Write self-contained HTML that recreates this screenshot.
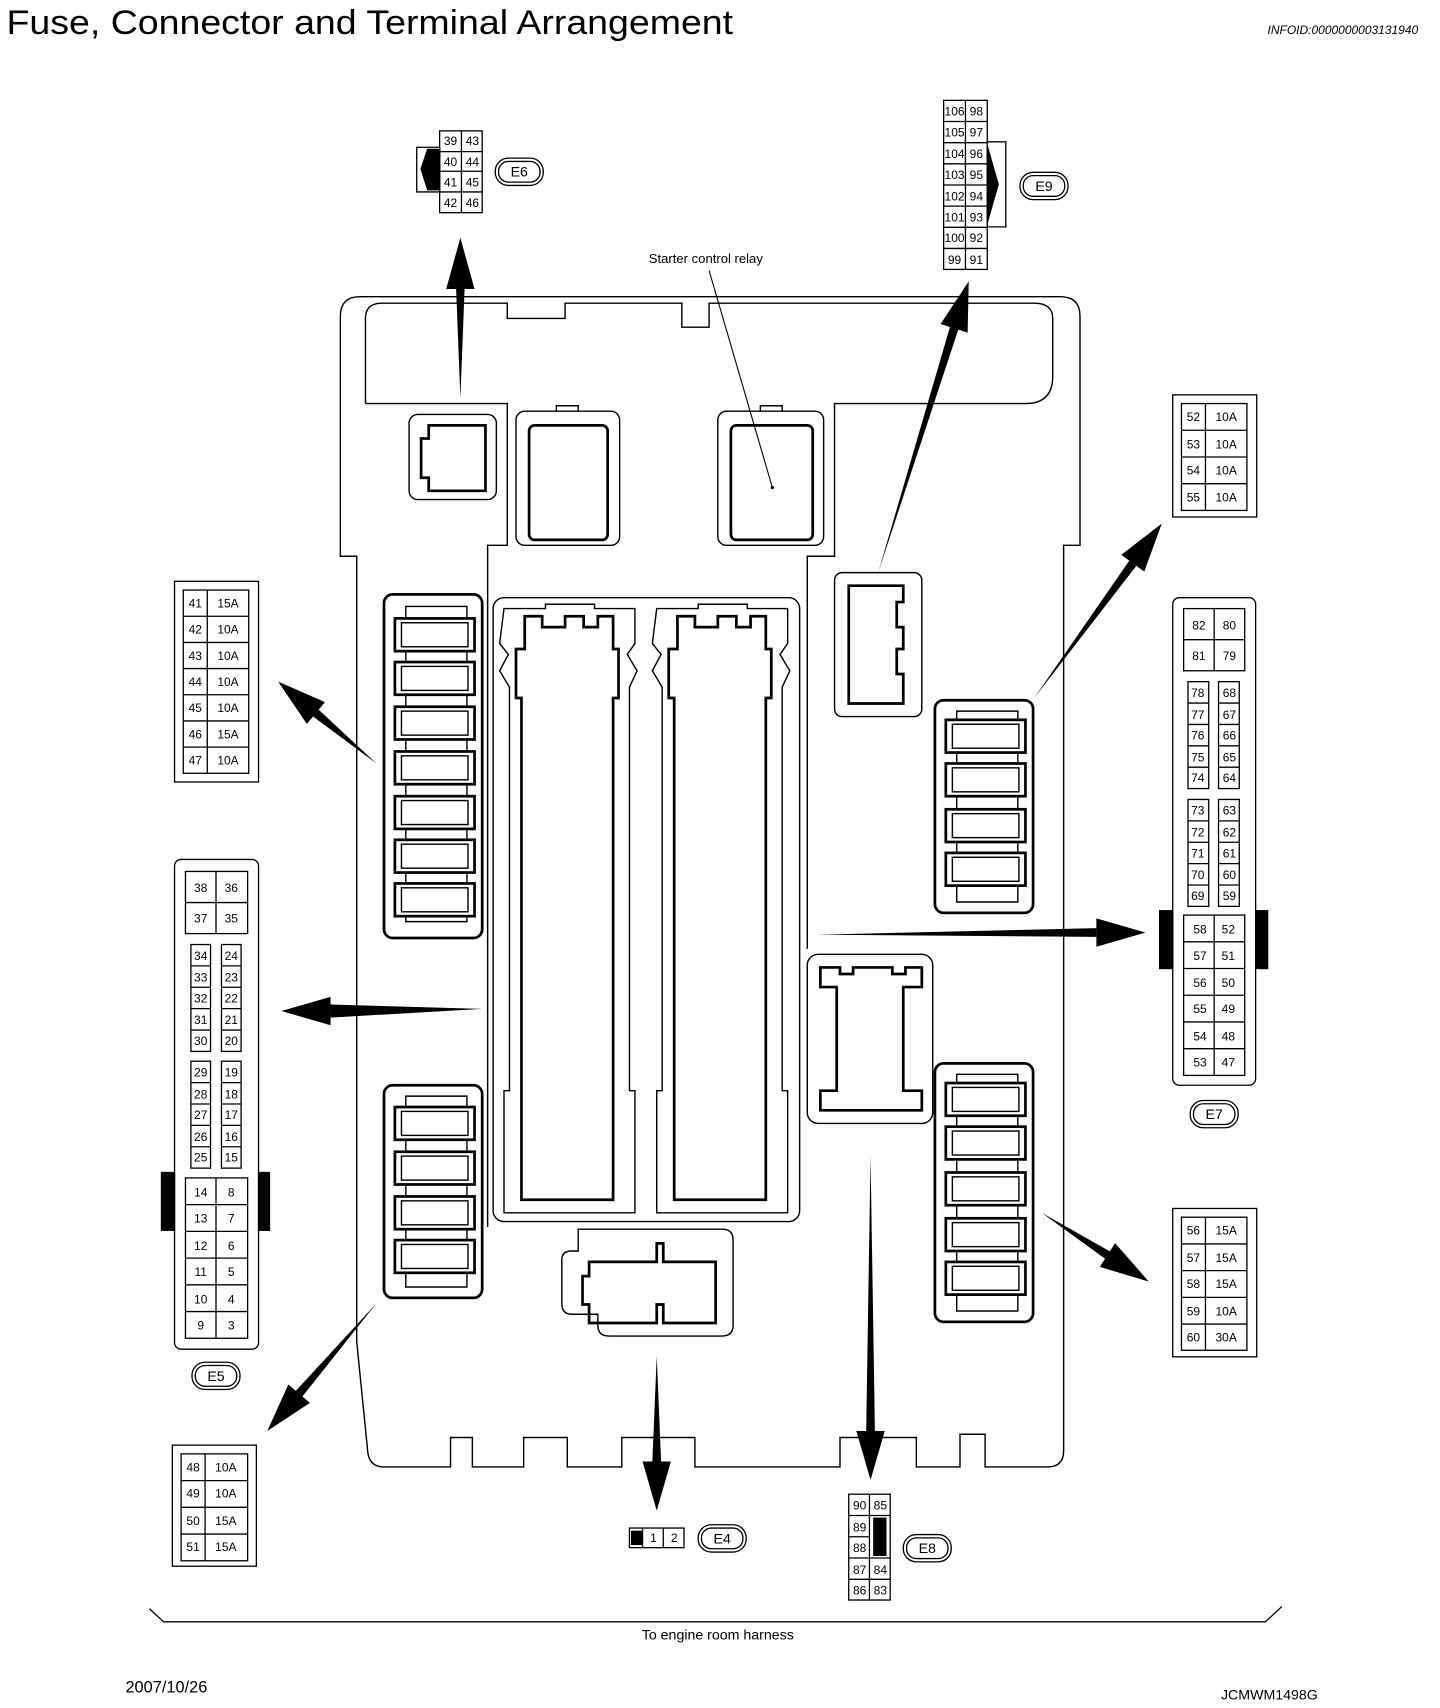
<!DOCTYPE html>
<html><head><meta charset="utf-8"><style>
html,body{margin:0;padding:0;background:#fff}
svg{display:block}
text{font-family:"Liberation Sans",sans-serif;fill:#000}
.c text{font-size:11px;text-anchor:middle}
</style></head><body>
<svg width="1440" height="1708" viewBox="0 0 1320 1566" preserveAspectRatio="none" xmlns="http://www.w3.org/2000/svg">
<rect width="1320" height="1566" fill="#fff"/>
<text x="6" y="31" font-size="31" textLength="666" lengthAdjust="spacingAndGlyphs">Fuse, Connector and Terminal Arrangement</text>
<text x="1300" y="31" font-size="11" font-style="italic" text-anchor="end">INFOID:0000000003131940</text>

<g fill="none" stroke="#000" stroke-width="1.3">
<path d="M330,272 H972 Q990,272 990,290 V500 H975 V1330 Q975,1345 960,1345 H903 V1315 H880 V1345 H840 V1318 H770 V1345 H637 V1318 H570 V1345 H520 V1318 H480 V1345 H433 V1318 H413 V1345 H352 Q338,1345 337,1330 L327,1230 V510 H312 V290 Q312,272 330,272 Z"/>
<path d="M335,370 V292 Q335,278 350,278 H465 V292 H518 V278 H625 V300 H650 V278 H948 Q965,278 965,292 V345 Q965,370 940,370 H765 V510 H740 V860"/>
<path d="M335,370 H465 V500 H447 V1125"/>
<path d="M740,860 V870"/>
<rect x="375" y="380" width="80" height="78" rx="8"/>
<path d="M393,390 H445 V450 H393 V438 H386 V402 H393 Z" stroke-width="2.5"/>
<rect x="473" y="377" width="95" height="123" rx="8"/>
<path d="M510,377 V372 H530 V377"/>
<rect x="485" y="390" width="72" height="105" rx="5" stroke-width="2.5"/>
<rect x="658" y="377" width="97" height="123" rx="8"/>
<path d="M697,377 V372 H717 V377"/>
<rect x="670" y="390" width="75" height="105" rx="5" stroke-width="2.5"/>
<rect x="765" y="525" width="80" height="132" rx="7"/>
<path d="M778,537 H828 V552 H822 V575 H828 V595 H822 V618 H828 V645 H778 Z" stroke-width="2.5"/>
<rect x="452" y="548" width="281" height="572" rx="10"/>
<path d="M462,558 H500 V554 H545 V558 H582 V590 L575,600 L584,615 L577,630 V1000 H582 V1112 H462 V1000 H467 V630 L458,615 L466,600 L458,590 Z"/>
<path d="M481,565 H497 V575 H518 V565 H535 V575 H548 V565 H562 V595 H567 V640 H562 V1100 H478 V640 H473 V595 H481 Z" stroke-width="2.5"/>
<path d="M602,558 H640 V554 H685 V558 H722 V590 L715,600 L724,615 L717,630 V1000 H722 V1112 H602 V1000 H607 V630 L598,615 L606,600 L598,590 Z"/>
<path d="M621,565 H637 V575 H658 V565 H675 V575 H688 V565 H702 V595 H707 V640 H702 V1100 H618 V640 H613 V595 H621 Z" stroke-width="2.5"/>
<path d="M530,1127 H662 Q672,1127 672,1137 V1215 Q672,1225 662,1225 H558 Q548,1225 548,1215 V1205 H524 Q515,1205 515,1195 V1155 Q515,1147 524,1147 H530 Z"/>
<path d="M540,1157 H602 V1140 H608 V1157 H656 V1213 H608 V1196 H602 V1213 H540 V1196 H534 V1170 H540 Z" stroke-width="2.5"/>
<rect x="740" y="875" width="115" height="155" rx="10"/>
<path d="M752,887 H770 V893 H782 V887 H818 V893 H830 V887 H845 V905 H828 V1000 H845 V1018 H752 V1000 H767 V905 H752 Z" stroke-width="2.5"/>
<rect x="352" y="545" width="90" height="315" rx="8" stroke-width="2.5"/>
<rect x="352" y="995" width="90" height="195" rx="8" stroke-width="2.5"/>
<rect x="857" y="642" width="90" height="195" rx="8" stroke-width="2.5"/>
<rect x="857" y="975" width="90" height="237" rx="8" stroke-width="2.5"/>
<path d="M372,556 H428 V845 H372 Z"/>
<path d="M372,1005 H428 V1180 H372 Z"/>
<path d="M877,652 H933 V827 H877 Z"/>
<path d="M877,985 H933 V1202 H877 Z"/>
</g>
<g fill="#fff" stroke="#000">
<g stroke-width="2.5">
<rect x="362" y="567" width="73" height="30"/><rect x="362" y="607" width="73" height="30"/><rect x="362" y="648" width="73" height="30"/><rect x="362" y="689" width="73" height="30"/><rect x="362" y="730" width="73" height="30"/><rect x="362" y="770" width="73" height="30"/><rect x="362" y="810" width="73" height="30"/>
<rect x="362" y="1015" width="73" height="30"/><rect x="362" y="1056" width="73" height="30"/><rect x="362" y="1097" width="73" height="30"/><rect x="362" y="1137" width="73" height="30"/>
<rect x="867" y="660" width="73" height="30"/><rect x="867" y="700" width="73" height="30"/><rect x="867" y="742" width="73" height="30"/><rect x="867" y="782" width="73" height="30"/>
<rect x="867" y="993" width="73" height="30"/><rect x="867" y="1033" width="73" height="30"/><rect x="867" y="1075" width="73" height="30"/><rect x="867" y="1117" width="73" height="30"/><rect x="867" y="1157" width="73" height="30"/>
</g>
<g stroke-width="1.3" fill="none">
<rect x="368" y="571" width="61" height="22"/><rect x="368" y="611" width="61" height="22"/><rect x="368" y="652" width="61" height="22"/><rect x="368" y="693" width="61" height="22"/><rect x="368" y="734" width="61" height="22"/><rect x="368" y="774" width="61" height="22"/><rect x="368" y="814" width="61" height="22"/>
<rect x="368" y="1019" width="61" height="22"/><rect x="368" y="1060" width="61" height="22"/><rect x="368" y="1101" width="61" height="22"/><rect x="368" y="1141" width="61" height="22"/>
<rect x="873" y="664" width="61" height="22"/><rect x="873" y="704" width="61" height="22"/><rect x="873" y="746" width="61" height="22"/><rect x="873" y="786" width="61" height="22"/>
<rect x="873" y="997" width="61" height="22"/><rect x="873" y="1037" width="61" height="22"/><rect x="873" y="1079" width="61" height="22"/><rect x="873" y="1121" width="61" height="22"/><rect x="873" y="1161" width="61" height="22"/>
</g>
</g>

<line x1="650" y1="248" x2="708" y2="447" stroke="#000" stroke-width="1"/>
<circle cx="708" cy="447" r="1.5"/>
<text x="647" y="241" font-size="12" text-anchor="middle">Starter control relay</text>

<g fill="#000">
<polygon points="422,365 418,262 426,262"/><polygon points="409,265 435,265 422,218"/>
<polygon points="805,525 878.4,302.2 870.8,299.8"/><polygon points="887,305 862.2,297.1 888,258"/>
<polygon points="345,700 292.2,650.7 287,656.9"/><polygon points="297.9,643.8 281.3,663.8 255,625"/>
<polygon points="442,925 303,921 303,933"/><polygon points="303,914 303,940 258,927"/>
<polygon points="748,857 1005,851 1005,859"/><polygon points="1005,842 1005,868 1050,855"/>
<polygon points="948,640 1041.6,518.8 1035.2,514"/><polygon points="1048.9,524.1 1027.9,508.7 1065,480"/>
<polygon points="345,1195 277.2,1280.4 271.2,1275.2"/><polygon points="284.1,1286.2 264.3,1269.4 245,1312"/>
<polygon points="602,1243 598,1340 606,1340"/><polygon points="589,1340 615,1340 602,1385"/>
<polygon points="798,1060 794,1312 802,1312"/><polygon points="785,1312 811,1312 798,1357"/>
<polygon points="955,1112 1013,1154.1 1017.4,1147.3"/><polygon points="1008.2,1161.6 1022.2,1139.8 1053,1175"/>
</g>

<g fill="none" stroke="#000" stroke-width="1.2">
<rect x="454" y="145" width="44" height="25" rx="12"/><rect x="457" y="148" width="38" height="19" rx="9"/>
<rect x="935" y="158" width="44" height="25" rx="12"/><rect x="938" y="161" width="38" height="19" rx="9"/>
<rect x="176" y="1249" width="44" height="25" rx="12"/><rect x="179" y="1252" width="38" height="19" rx="9"/>
<rect x="1091" y="1009" width="44" height="25" rx="12"/><rect x="1094" y="1012" width="38" height="19" rx="9"/>
<rect x="640" y="1398" width="44" height="25" rx="12"/><rect x="643" y="1401" width="38" height="19" rx="9"/>
<rect x="828" y="1407" width="44" height="25" rx="12"/><rect x="831" y="1410" width="38" height="19" rx="9"/>
</g>
<g font-size="13" text-anchor="middle">
<text x="476" y="162">E6</text><text x="957" y="175">E9</text><text x="198" y="1266">E5</text>
<text x="1113" y="1026">E7</text><text x="662" y="1415">E4</text><text x="850" y="1424">E8</text>
</g>

<g class="c" fill="none" stroke="#000" stroke-width="1.2">
<rect x="403" y="120" width="39" height="75"/>
<path d="M423,120 V195 M403,139 H442 M403,157 H442 M403,176 H442"/>
<path d="M382,135 H403 V176 H382 Z" fill="#fff"/>
<path d="M403,137 V174 H392 L386,155 L392,137 Z" fill="#000"/>
<rect x="865" y="92" width="40" height="155"/>
<path d="M885,92 V247 M865,111.4 H905 M865,130.8 H905 M865,150.2 H905 M865,169.6 H905 M865,189 H905 M865,208.4 H905 M865,227.8 H905"/>
<path d="M905,130 H922 V208 H905" />
<path d="M905,134 L915,169 L905,204 Z" fill="#000"/>
<rect x="1075" y="362" width="77" height="112"/>
<rect x="1083" y="370" width="60" height="98"/>
<path d="M1105,370 V468 M1083,394.5 H1143 M1083,419 H1143 M1083,443.5 H1143"/>
<rect x="160" y="533" width="77" height="184"/>
<rect x="168" y="541" width="60" height="168"/>
<path d="M190,541 V709 M168,565 H228 M168,589 H228 M168,613 H228 M168,637 H228 M168,661 H228 M168,685 H228"/>
<rect x="160" y="788" width="77" height="449" rx="6"/>
<rect x="170" y="799" width="57" height="57"/><path d="M198,799 V856 M170,827.5 H227"/>
<rect x="175" y="866" width="18" height="98"/><rect x="203" y="866" width="18" height="98"/>
<path d="M175,885.6 H193 M175,905.2 H193 M175,924.8 H193 M175,944.4 H193 M203,885.6 H221 M203,905.2 H221 M203,924.8 H221 M203,944.4 H221"/>
<rect x="175" y="973" width="18" height="98"/><rect x="203" y="973" width="18" height="98"/>
<path d="M175,992.6 H193 M175,1012.2 H193 M175,1031.8 H193 M175,1051.4 H193 M203,992.6 H221 M203,1012.2 H221 M203,1031.8 H221 M203,1051.4 H221"/>
<rect x="170" y="1080" width="57" height="147"/>
<path d="M198,1080 V1227 M170,1104.5 H227 M170,1129 H227 M170,1153.5 H227 M170,1178 H227 M170,1202.5 H227"/>
<rect x="148" y="1075" width="12" height="53" fill="#000"/><rect x="237" y="1075" width="10" height="53" fill="#000"/>
<rect x="1075" y="548" width="76" height="447" rx="6"/>
<rect x="1085" y="558" width="56" height="57"/><path d="M1113,558 V615 M1085,586.5 H1141"/>
<rect x="1089" y="625" width="19" height="98"/><rect x="1117" y="625" width="19" height="98"/>
<path d="M1089,644.6 H1108 M1089,664.2 H1108 M1089,683.8 H1108 M1089,703.4 H1108 M1117,644.6 H1136 M1117,664.2 H1136 M1117,683.8 H1136 M1117,703.4 H1136"/>
<rect x="1089" y="733" width="19" height="98"/><rect x="1117" y="733" width="19" height="98"/>
<path d="M1089,752.6 H1108 M1089,772.2 H1108 M1089,791.8 H1108 M1089,811.4 H1108 M1117,752.6 H1136 M1117,772.2 H1136 M1117,791.8 H1136 M1117,811.4 H1136"/>
<rect x="1085" y="839" width="56" height="147"/>
<path d="M1113,839 V986 M1085,863.5 H1141 M1085,888 H1141 M1085,912.5 H1141 M1085,937 H1141 M1085,961.5 H1141"/>
<rect x="1063" y="835" width="12" height="53" fill="#000"/><rect x="1151" y="835" width="11" height="53" fill="#000"/>
<rect x="158" y="1325" width="77" height="111"/>
<rect x="166" y="1333" width="61" height="98"/>
<path d="M188,1333 V1431 M166,1357.5 H227 M166,1382 H227 M166,1406.5 H227"/>
<rect x="1075" y="1108" width="77" height="136"/>
<rect x="1083" y="1116" width="60" height="122"/>
<path d="M1105,1116 V1238 M1083,1140.5 H1143 M1083,1165 H1143 M1083,1189.5 H1143 M1083,1214 H1143"/>
<rect x="577" y="1401" width="50" height="18"/>
<path d="M589,1401 V1419 M608,1401 V1419"/>
<rect x="579" y="1404" width="9" height="12" fill="#000"/>
<rect x="778" y="1370" width="38" height="97"/>
<path d="M797,1370 V1467 M778,1389.5 H816 M778,1409 H797 M778,1428.5 H816 M778,1448 H816"/>
<rect x="801" y="1392" width="11" height="34" fill="#000"/>
</g>

<g class="c" stroke="none">
<text x="413" y="133">39</text><text x="433" y="133">43</text>
<text x="413" y="152">40</text><text x="433" y="152">44</text>
<text x="413" y="171">41</text><text x="433" y="171">45</text>
<text x="413" y="190">42</text><text x="433" y="190">46</text>

<text x="875" y="106">106</text><text x="895" y="106">98</text>
<text x="875" y="125">105</text><text x="895" y="125">97</text>
<text x="875" y="145">104</text><text x="895" y="145">96</text>
<text x="875" y="164">103</text><text x="895" y="164">95</text>
<text x="875" y="184">102</text><text x="895" y="184">94</text>
<text x="875" y="203">101</text><text x="895" y="203">93</text>
<text x="875" y="222">100</text><text x="895" y="222">92</text>
<text x="875" y="242">99</text><text x="895" y="242">91</text>

<text x="1094" y="386">52</text><text x="1124" y="386">10A</text>
<text x="1094" y="411">53</text><text x="1124" y="411">10A</text>
<text x="1094" y="435">54</text><text x="1124" y="435">10A</text>
<text x="1094" y="460">55</text><text x="1124" y="460">10A</text>

<text x="179" y="557">41</text><text x="209" y="557">15A</text>
<text x="179" y="581">42</text><text x="209" y="581">10A</text>
<text x="179" y="605">43</text><text x="209" y="605">10A</text>
<text x="179" y="629">44</text><text x="209" y="629">10A</text>
<text x="179" y="653">45</text><text x="209" y="653">10A</text>
<text x="179" y="677">46</text><text x="209" y="677">15A</text>
<text x="179" y="701">47</text><text x="209" y="701">10A</text>

<g style="font-size:12px">
<text x="184" y="818">38</text><text x="212" y="818">36</text>
<text x="184" y="846">37</text><text x="212" y="846">35</text>
</g>
<text x="184" y="880">34</text><text x="212" y="880">24</text>
<text x="184" y="900">33</text><text x="212" y="900">23</text>
<text x="184" y="919">32</text><text x="212" y="919">22</text>
<text x="184" y="939">31</text><text x="212" y="939">21</text>
<text x="184" y="958">30</text><text x="212" y="958">20</text>
<text x="184" y="987">29</text><text x="212" y="987">19</text>
<text x="184" y="1007">28</text><text x="212" y="1007">18</text>
<text x="184" y="1026">27</text><text x="212" y="1026">17</text>
<text x="184" y="1046">26</text><text x="212" y="1046">16</text>
<text x="184" y="1065">25</text><text x="212" y="1065">15</text>
<g style="font-size:12px">
<text x="184" y="1097">14</text><text x="212" y="1097">8</text>
<text x="184" y="1121">13</text><text x="212" y="1121">7</text>
<text x="184" y="1146">12</text><text x="212" y="1146">6</text>
<text x="184" y="1170">11</text><text x="212" y="1170">5</text>
<text x="184" y="1195">10</text><text x="212" y="1195">4</text>
<text x="184" y="1219">9</text><text x="212" y="1219">3</text>
</g>

<g style="font-size:12px">
<text x="1099" y="577">82</text><text x="1127" y="577">80</text>
<text x="1099" y="605">81</text><text x="1127" y="605">79</text>
</g>
<text x="1098" y="639">78</text><text x="1127" y="639">68</text>
<text x="1098" y="659">77</text><text x="1127" y="659">67</text>
<text x="1098" y="678">76</text><text x="1127" y="678">66</text>
<text x="1098" y="698">75</text><text x="1127" y="698">65</text>
<text x="1098" y="717">74</text><text x="1127" y="717">64</text>
<text x="1098" y="747">73</text><text x="1127" y="747">63</text>
<text x="1098" y="767">72</text><text x="1127" y="767">62</text>
<text x="1098" y="786">71</text><text x="1127" y="786">61</text>
<text x="1098" y="806">70</text><text x="1127" y="806">60</text>
<text x="1098" y="825">69</text><text x="1127" y="825">59</text>
<g style="font-size:12px">
<text x="1100" y="856">58</text><text x="1126" y="856">52</text>
<text x="1100" y="880">57</text><text x="1126" y="880">51</text>
<text x="1100" y="905">56</text><text x="1126" y="905">50</text>
<text x="1100" y="929">55</text><text x="1126" y="929">49</text>
<text x="1100" y="954">54</text><text x="1126" y="954">48</text>
<text x="1100" y="978">53</text><text x="1126" y="978">47</text>
</g>

<text x="177" y="1349">48</text><text x="207" y="1349">10A</text>
<text x="177" y="1373">49</text><text x="207" y="1373">10A</text>
<text x="177" y="1398">50</text><text x="207" y="1398">15A</text>
<text x="177" y="1422">51</text><text x="207" y="1422">15A</text>

<text x="1094" y="1132">56</text><text x="1124" y="1132">15A</text>
<text x="1094" y="1157">57</text><text x="1124" y="1157">15A</text>
<text x="1094" y="1181">58</text><text x="1124" y="1181">15A</text>
<text x="1094" y="1206">59</text><text x="1124" y="1206">10A</text>
<text x="1094" y="1230">60</text><text x="1124" y="1230">30A</text>

<text x="599" y="1414">1</text><text x="618" y="1414">2</text>

<text x="788" y="1384">90</text><text x="807" y="1384">85</text>
<text x="788" y="1404">89</text>
<text x="788" y="1423">88</text>
<text x="788" y="1443">87</text><text x="807" y="1443">84</text>
<text x="788" y="1462">86</text><text x="807" y="1462">83</text>
</g>

<path d="M137,1475 L150,1487 H1160 L1175,1473" fill="none" stroke="#000" stroke-width="1.2"/>
<text x="658" y="1503" font-size="13" text-anchor="middle">To engine room harness</text>
<text x="115" y="1552" font-size="15">2007/10/26</text>
<text x="1208" y="1558" font-size="13" text-anchor="end">JCMWM1498G</text>
</svg>
</body></html>
